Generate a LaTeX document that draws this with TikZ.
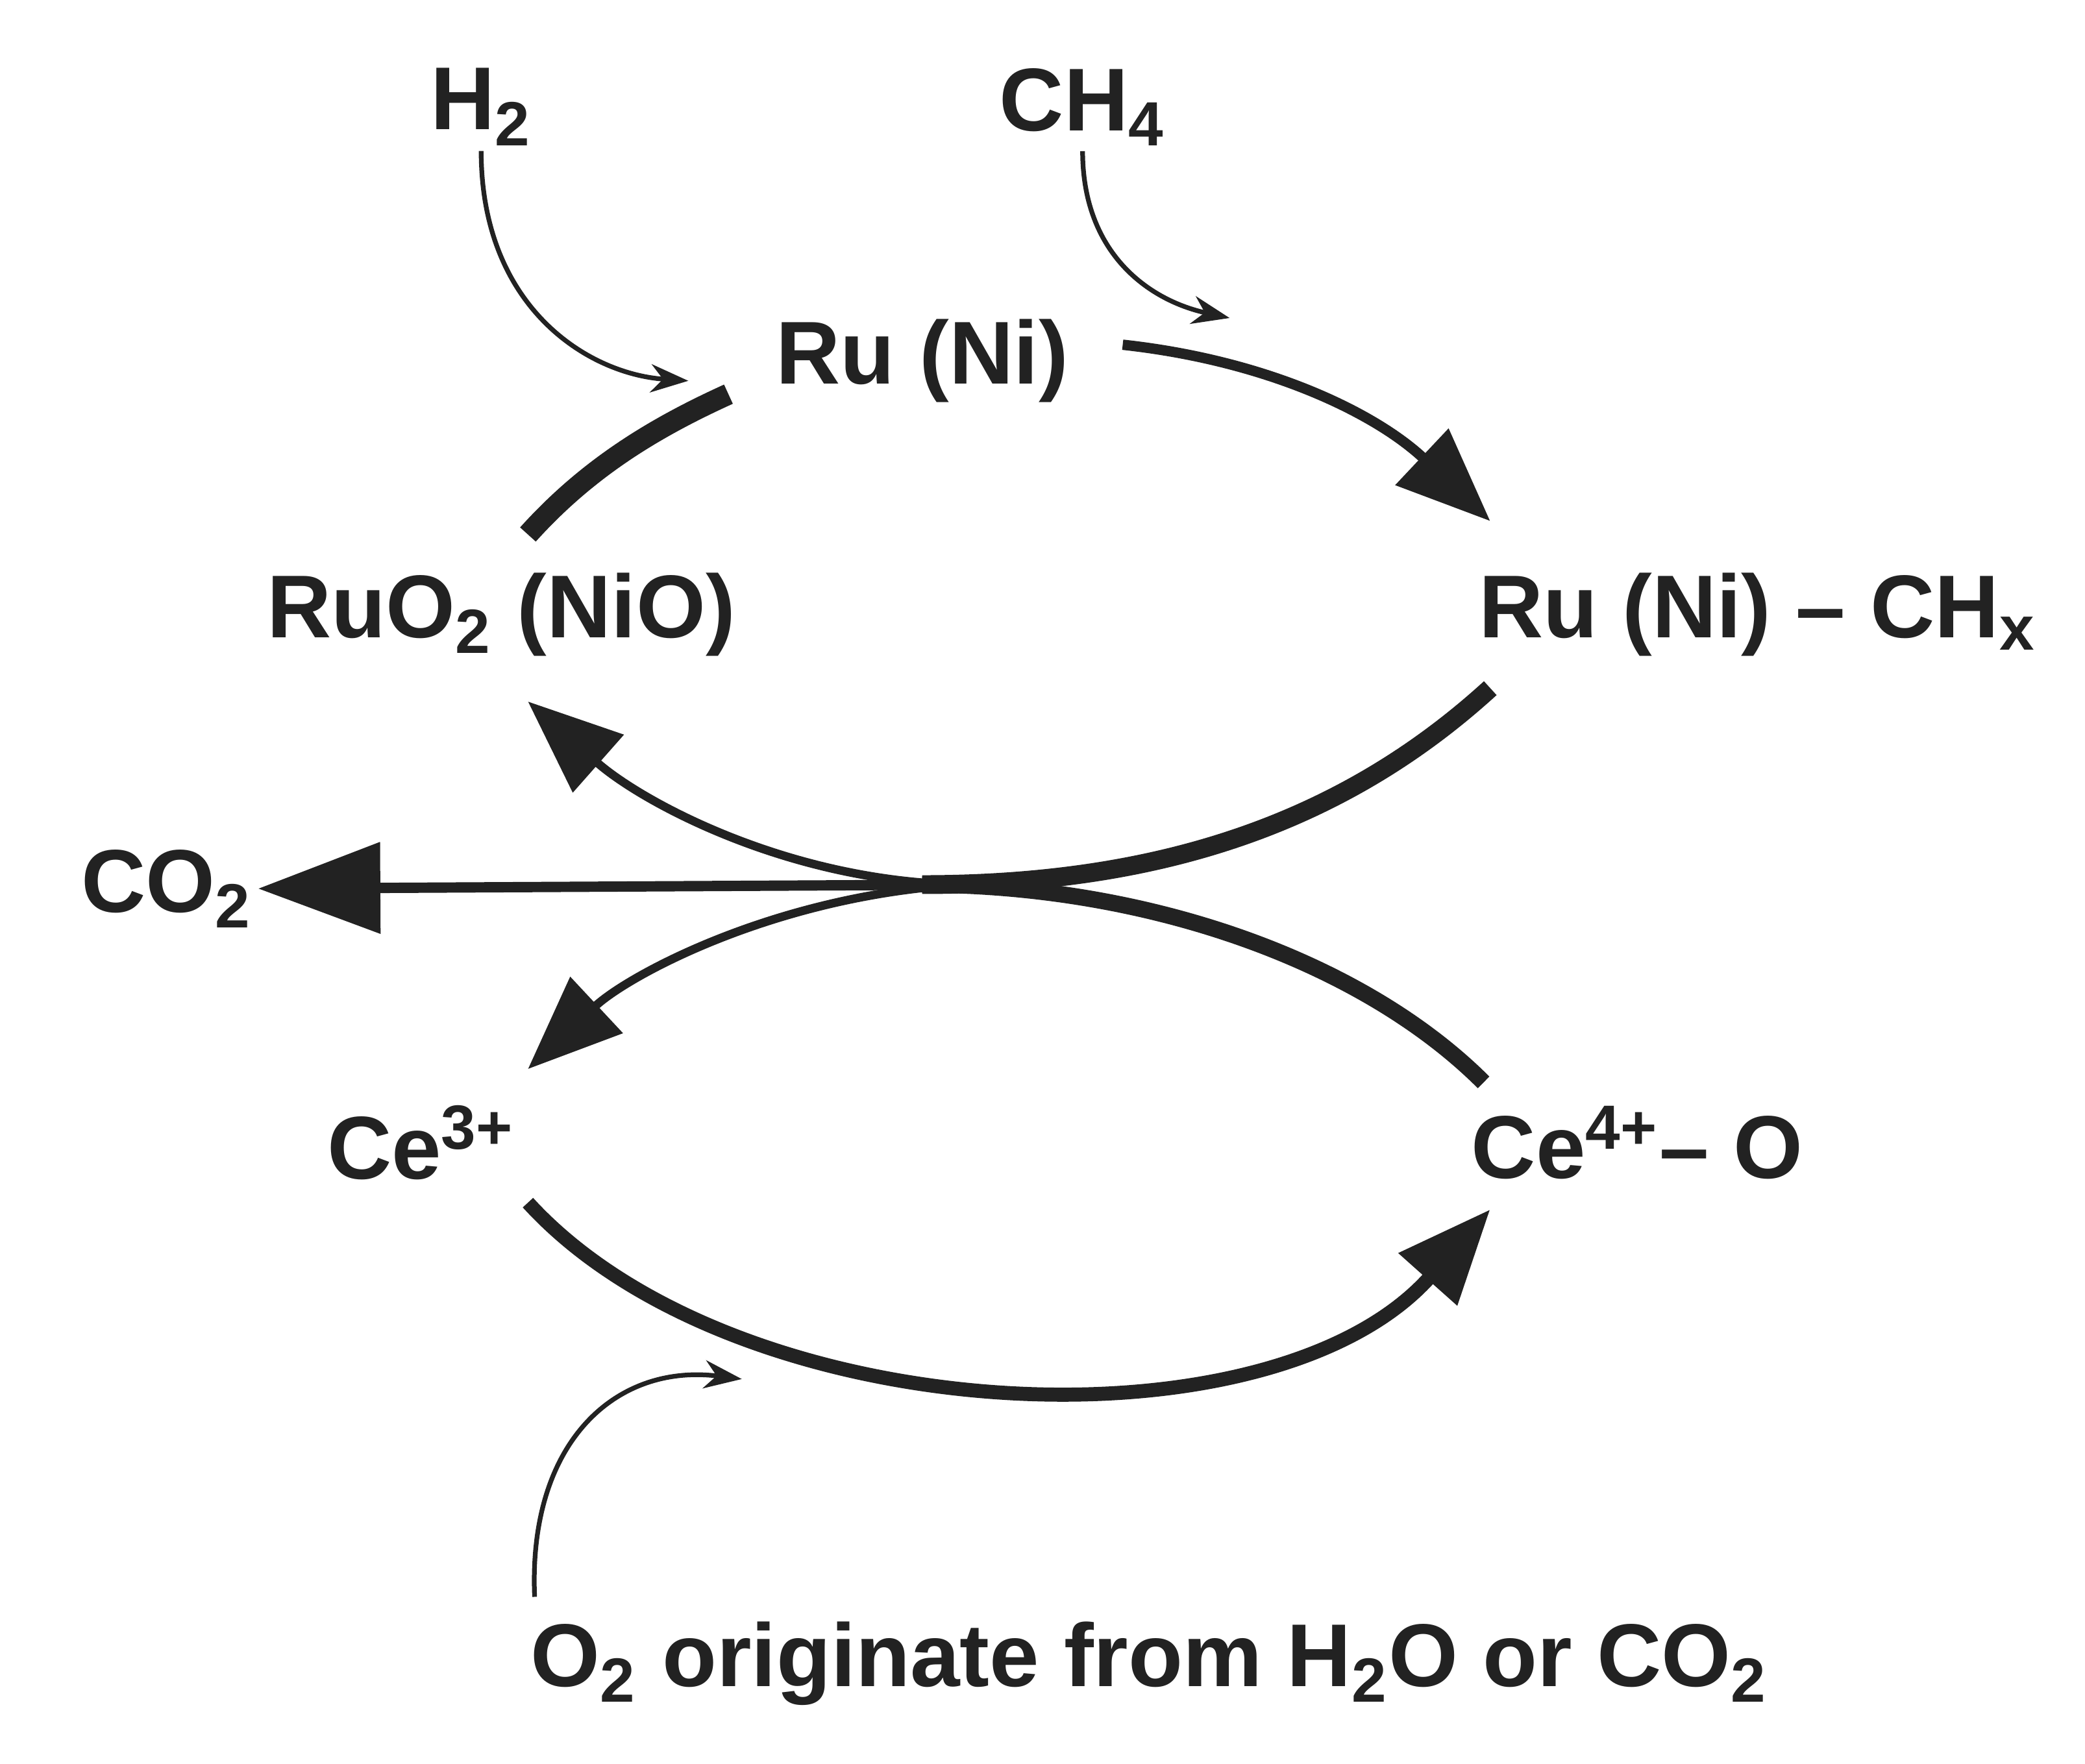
\documentclass[tikz,border=0pt]{standalone}
\usepackage{fontspec}
\setmainfont{Liberation Sans}
\usetikzlibrary{arrows.meta}
\usetikzlibrary{positioning}
\definecolor{ink}{HTML}{222222}
\tikzset{
  % chemical species labels
  species/.style={font=\fontsize{19}{22}\selectfont\bfseries,inner sep=1pt,text=ink},
  % thin side feeds and main cycle strokes
  feed/.style={-{Stealth[length=8pt,width=6pt]},line width=1pt,draw=ink},
  cyc/.style={line width=2.2pt,draw=ink},
  bighead/.style={-{Triangle[length=20pt,width=16pt]}},
}
\begin{document}
\begin{tikzpicture}
  \useasboundingbox[fill=white] (0,0) rectangle (15.6,13.2);
  \node[species] (h2) at (3.6,12.4) {H\textsubscript{2}};
  \node[species] (ch4) at (8.1,12.4) {CH\textsubscript{4}};
  \node[species] (ru) at (6.9,10.5) {Ru (Ni)};
  \node[species] (ruo) at (3.75,8.6) {RuO\textsubscript{2} (NiO)};
  \node[species] (rch) at (13.15,8.6) {Ru (Ni) -- CH\textsubscript{x}};
  \node[species] (co2) at (1.25,6.55) {CO\textsubscript{2}};
  \node[species] (ce3) at (3.15,4.65) {Ce\textsuperscript{3+}};
  \node[species] (ce4) at (12.25,4.65) {Ce\textsuperscript{4+}-- O};
  \node[species] (o2) at (8.6,0.75) {O\textsubscript{2} originate from H\textsubscript{2}O or CO\textsubscript{2}};
  % end points of the connectors
  \coordinate (m) at (7.2,6.58);
  \coordinate (h2in) at (5.15,10.35);
  \coordinate (ch4in) at (9.2,10.82);
  \coordinate (o2out) at (4.0,1.25);
  \coordinate (o2in) at (5.55,2.88);
  % side feeds
  \draw[feed] (h2.south) .. controls (3.6,10.9) and (4.4,10.4) .. (h2in);
  \draw[feed] (ch4.south) .. controls (8.1,11.3) and (8.6,10.95) .. (ch4in);
  \draw[feed] (o2out) .. controls (3.95,2.4) and (4.6,3.0) .. (o2in);
  % upper cycle
  \draw[cyc,line width=4.5pt] (3.95,9.2) .. controls (4.4,9.7) and (4.9,10.0) .. (5.45,10.25);
  \draw[cyc,bighead] (8.4,10.62) .. controls (9.5,10.5) and (10.3,10.1) .. (11.15,9.3);
  \draw[cyc,line width=4pt] (11.15,8.05) .. controls (10.0,7.0) and (8.6,6.58) .. (6.9,6.58);
  \draw[cyc,line width=1.8pt,bighead] (m) .. controls (5.9,6.6) and (4.8,7.2) .. (3.95,7.95);
  % carbon dioxide release
  \draw[cyc,-{Triangle[length=26pt,width=19pt]}] (m) -- (co2.east);
  % lower cycle
  \draw[cyc,line width=3.5pt] (11.1,5.1) .. controls (10.2,6.0) and (8.6,6.58) .. (6.9,6.58);
  \draw[cyc,line width=1.8pt,bighead] (m) .. controls (5.8,6.5) and (4.7,5.9) .. (3.95,5.2);
  \draw[cyc,line width=3pt,bighead] (3.95,4.2) .. controls (5.5,2.5) and (9.5,2.3) .. (11.15,4.15);
\end{tikzpicture}
\end{document}
